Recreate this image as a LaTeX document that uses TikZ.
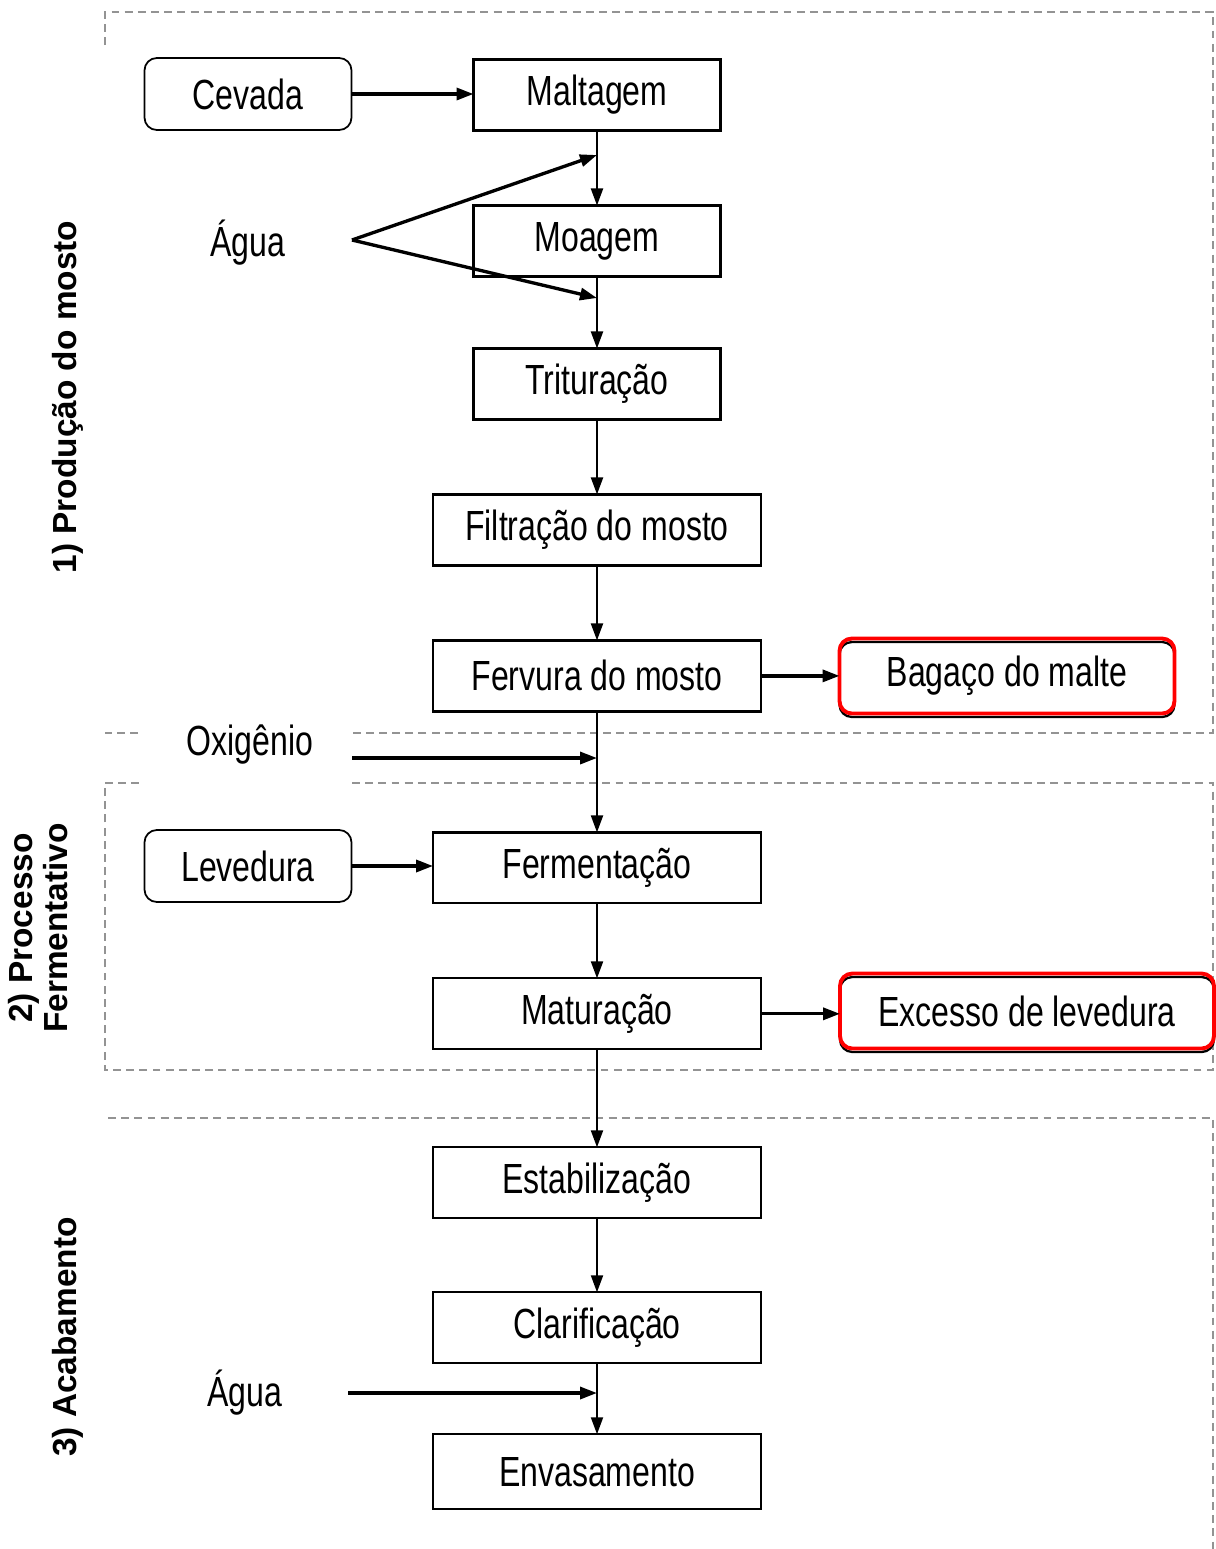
\documentclass[tikz,border=0pt]{standalone}
\usepackage{fontspec}
\setmainfont[FakeStretch=0.76]{Liberation Sans}
\newfontfamily\sidefont{Liberation Sans}
\usetikzlibrary{positioning,arrows.meta}

\tikzset{
  procbox/.style={draw, line width=1.3pt, minimum height=1.42cm, inner sep=0pt, outer sep=0pt},
  narrowbox/.style={procbox, minimum width=4.94cm},
  widebox/.style={procbox, minimum width=6.56cm},
  inbox/.style={draw, line width=1pt, rounded corners=7pt, minimum width=4.14cm, minimum height=1.44cm, outer sep=0pt},
  outbox/.style={draw=red, line width=2.2pt, rounded corners=7pt, minimum height=1.5cm, outer sep=0pt,
    preaction={draw=black, line width=1.3pt, transform canvas={yshift=-0.07cm}}},
  flow/.style={-{Triangle[length=3.4mm,width=2.4mm]}, line width=1.2pt},
  feed/.style={flow, line width=1.9pt},
  zone/.style={draw=gray!85, line width=1pt, dash pattern=on 4.5pt off 3pt},
  sidelabel/.style={font=\sidefont\bfseries\fontsize{19}{20}\selectfont, rotate=90, align=center}
}

\begin{document}
\begin{tikzpicture}[x=0.02cm, y=-0.02cm, font=\fontsize{24}{28}\selectfont]
\useasboundingbox (0,0) rectangle (1216,1549);

% zones
\draw[zone] (105,45) -- (105,12) -- (1213,12) -- (1213,733) -- (352,733); \draw[zone] (138,733) -- (105,733);
\draw[zone] (105,783) -- (140,783); \draw[zone] (352,783) -- (1213,783) -- (1213,1070) -- (105,1070) -- (105,783);
\draw[zone] (108,1118) -- (1213,1118) -- (1213,1549);

\node[sidelabel] (zone1) at (68,397) {1) Produção do mosto};
\node[sidelabel] (zone2) at (38,928) {2) Processo\\Fermentativo};
\node[sidelabel] (zone3) at (68,1337) {3) Acabamento};

% main line
\node[narrowbox] (maltagem) at (597,95) {Maltagem};
\node[narrowbox, below=1.5cm of maltagem] (moagem) {Moagem};
\node[narrowbox, below=1.44cm of moagem] (trituracao) {Trituração};
\node[widebox, below=1.5cm of trituracao] (filtracao) {Filtração do mosto};
\node[widebox, below=1.5cm of filtracao] (fervura) {Fervura do mosto};
\node[widebox, below=2.42cm of fervura] (fermentacao) {Fermentação};
\node[widebox, below=1.5cm of fermentacao] (maturacao) {Maturação};
\node[widebox, below=1.96cm of maturacao] (estabilizacao) {Estabilização};
\node[widebox, below=1.48cm of estabilizacao] (clarificacao) {Clarificação};
\node[widebox, below=1.42cm of clarificacao, minimum height=1.5cm] (envasamento) {Envasamento};

% inputs and outputs
\node[inbox] (cevada) at (248,94) {Cevada};
\node[inbox] (levedura) at (248,866) {Levedura};
\node (agua1) at (248,243) {Água}; \node (oxigenio) at (250,745) {Oxigênio}; \node (agua2) at (245,1393) {Água};
\node[outbox, minimum width=6.7cm] (bagaco) at (1007,676) {Bagaço do malte};
\node[outbox, minimum width=7.48cm] (excesso) at (1027,1011) {Excesso de levedura};

\coordinate (agua1-out) at (352,240); \coordinate (agua1-a) at (597,155); \coordinate (agua1-b) at (597,298);
\coordinate (oxi-out) at (352,758); \coordinate (oxi-in) at (597,758);
\coordinate (agua2-out) at (348,1393); \coordinate (agua2-in) at (597,1393);

\draw[flow] (maltagem) -- (moagem); \draw[flow] (moagem) -- (trituracao); \draw[flow] (trituracao) -- (filtracao);
\draw[flow] (filtracao) -- (fervura); \draw[flow] (fervura) -- (fermentacao); \draw[flow] (fermentacao) -- (maturacao);
\draw[flow] (maturacao) -- (estabilizacao); \draw[flow] (estabilizacao) -- (clarificacao); \draw[flow] (clarificacao) -- (envasamento);

\draw[feed] (cevada.east) -- (cevada.east -| maltagem.west); \draw[feed] (levedura.east) -- (levedura.east -| fermentacao.west);
\draw[feed] (fervura.east) -- (fervura.east -| bagaco.west); \draw[feed] (maturacao.east) -- (maturacao.east -| excesso.west);
\draw[feed] (agua1-out) -- (agua1-a); \draw[feed] (agua1-out) -- (agua1-b);
\draw[feed] (oxi-out) -- (oxi-in); \draw[feed] (agua2-out) -- (agua2-in);
\end{tikzpicture}
\end{document}
